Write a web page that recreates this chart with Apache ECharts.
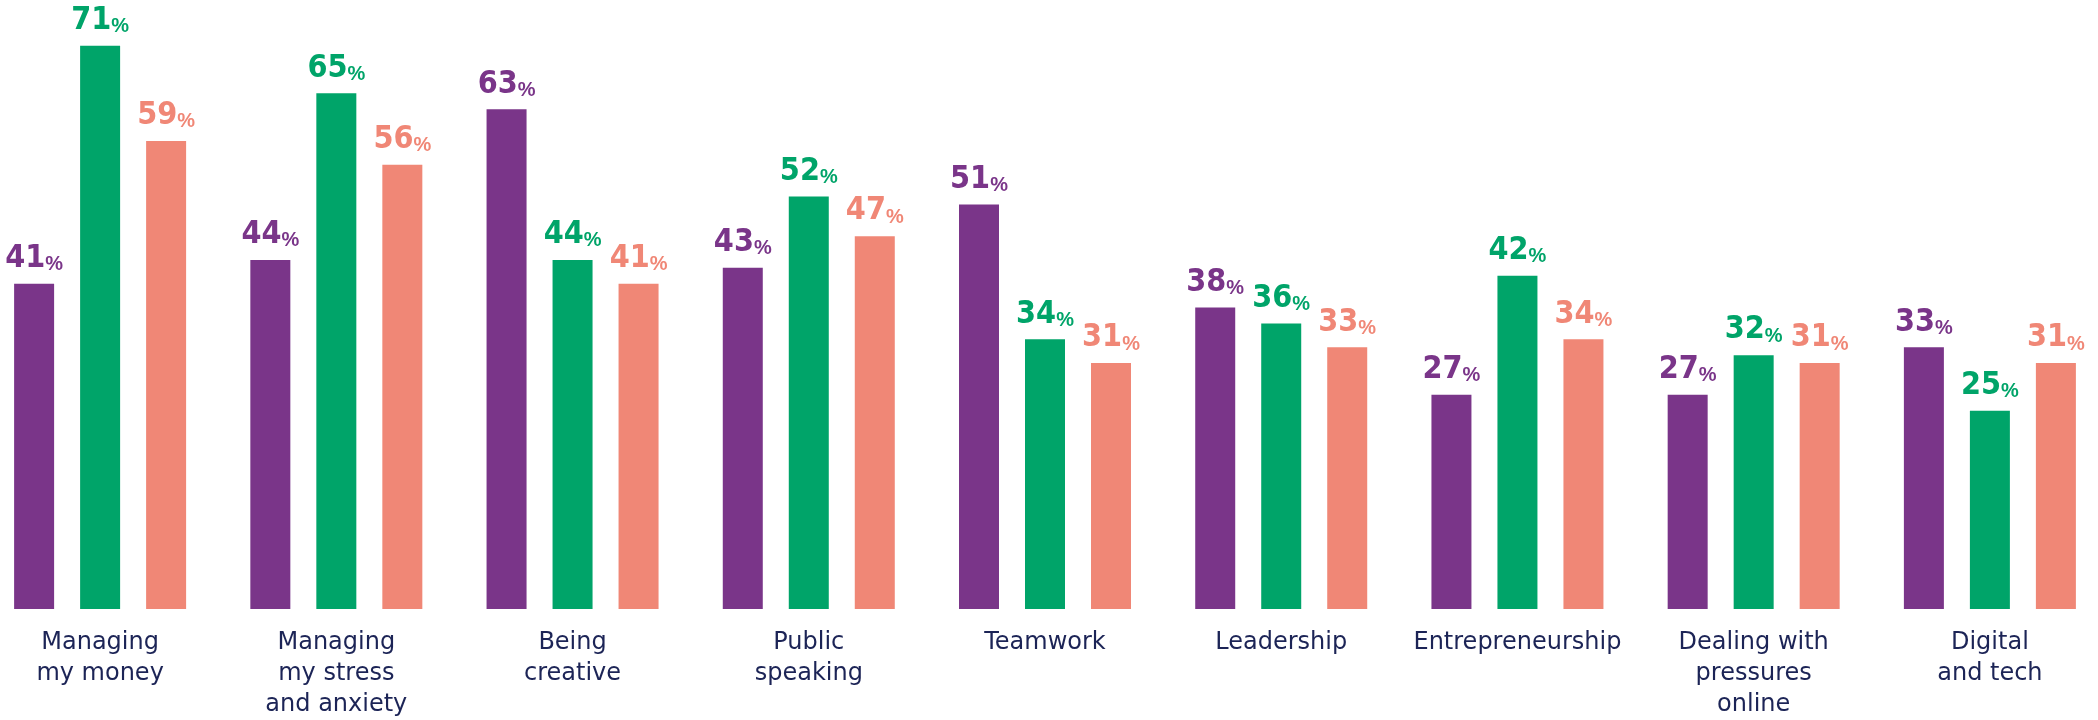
<!DOCTYPE html>
<html>
<head>
<meta charset="utf-8">
<script src="https://cdn.jsdelivr.net/npm/echarts@6/dist/echarts.min.js"></script>
<style>
  html, body { margin: 0; padding: 0; background: #ffffff; overflow: hidden; }
  /* the plot runs slightly past both window edges so the outer groups sit close to the border */
  #chart { width: 2126px; height: 720px; margin-left: -18px; }
</style>
</head>
<body>
<div id="chart"></div>
<script>
// Skill areas along the x axis
const categories = [
  'Managing\nmy money',
  'Managing\nmy stress\nand anxiety',
  'Being\ncreative',
  'Public\nspeaking',
  'Teamwork',
  'Leadership',
  'Entrepreneurship',
  'Dealing with\npressures\nonline',
  'Digital\nand tech'
];

// Three survey groups, percentages per skill area
const seriesA = [41, 44, 63, 43, 51, 38, 27, 27, 33];
const seriesB = [71, 65, 44, 52, 34, 36, 42, 32, 25];
const seriesC = [59, 56, 41, 47, 31, 33, 34, 31, 31];

const colors = ['#7a3589', '#00a469', '#f08776'];

const numFont = "'Liberation Sans Narrow', 'DejaVu Sans Condensed', 'Liberation Sans', sans-serif";
const pctFont = "'Liberation Sans', 'DejaVu Sans', sans-serif";

function makeSeries(name, data, color) {
  return {
    name: name,
    type: 'bar',
    data: data,
    barWidth: 40,
    barGap: '65%',
    itemStyle: { color: color },
    label: {
      show: true,
      position: 'top',
      distance: 9,
      formatter: function (p) { return '{n|' + p.value + '}{p|%}'; },
      rich: {
        n: { fontFamily: numFont, fontWeight: 'bold', fontSize: 32, color: color, verticalAlign: 'bottom', lineHeight: 31 },
        p: { fontFamily: pctFont, fontWeight: 'bold', fontSize: 20, color: color, verticalAlign: 'bottom', lineHeight: 24 }
      }
    }
  };
}

const chart = echarts.init(document.getElementById('chart'), null, { renderer: 'canvas' });
chart.setOption({
  animation: false,
  backgroundColor: '#ffffff',
  grid: { left: 0, right: 0, top: 14, bottom: 110, containLabel: false },
  xAxis: {
    type: 'category',
    data: categories,
    axisLine: { show: false },
    axisTick: { show: false },
    axisLabel: {
      interval: 0,
      margin: 18,
      color: '#1c2456',
      fontFamily: "'DejaVu Sans', sans-serif",
      fontSize: 24,
      lineHeight: 31,
      verticalAlign: 'top'
    }
  },
  yAxis: {
    type: 'value',
    min: 0,
    max: 75,
    show: false,
    splitLine: { show: false }
  },
  series: [
    makeSeries('A', seriesA, colors[0]),
    makeSeries('B', seriesB, colors[1]),
    makeSeries('C', seriesC, colors[2])
  ]
});
</script>
</body>
</html>
